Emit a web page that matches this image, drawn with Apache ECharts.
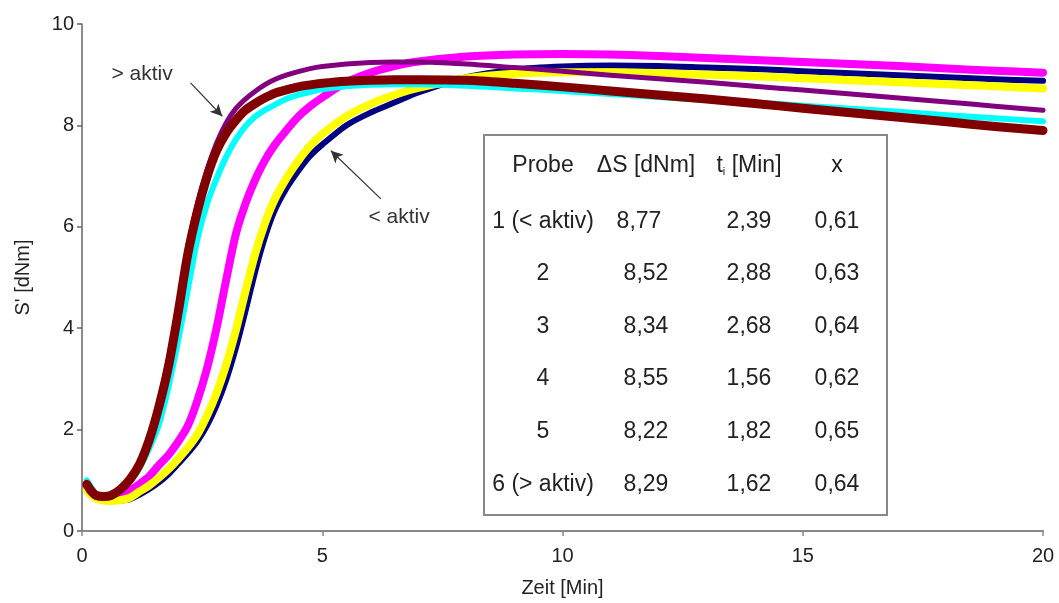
<!DOCTYPE html>
<html>
<head>
<meta charset="utf-8">
<script src="https://cdn.jsdelivr.net/npm/echarts@6/dist/echarts.min.js"></script>
<style>
html,body{margin:0;padding:0;background:#fff;}
#c{width:1059px;height:603px;}
</style>
</head>
<body>
<div id="c"></div>
<script>
// time axis (min)
const T = [0.1,0.2,0.3,0.45,0.6,0.8,1.0,1.2,1.4,1.6,1.8,2.0,2.2,2.4,2.6,2.8,3.0,3.2,3.4,3.6,3.8,4.0,4.25,4.5,4.75,5.0,5.5,6.0,6.5,7.0,8,9,10,11,12,13,14,15,16,17,18,19,20];
// S' [dNm] per sample
const probe1 = [0.85,0.72,0.65,0.6,0.59,0.6,0.63,0.72,0.83,0.96,1.12,1.32,1.53,1.77,2.08,2.48,2.98,3.6,4.33,5.1,5.77,6.3,6.75,7.1,7.4,7.62,8.0,8.25,8.45,8.65,8.95,9.1,9.16,9.18,9.17,9.14,9.11,9.07,9.03,8.99,8.95,8.91,8.88];
const probe2 = [0.92,0.8,0.7,0.66,0.66,0.72,0.8,0.93,1.08,1.3,1.5,1.76,2.07,2.57,3.2,4.0,4.95,5.85,6.45,6.92,7.3,7.6,7.9,8.17,8.38,8.55,8.85,9.04,9.17,9.26,9.36,9.4,9.41,9.4,9.37,9.33,9.29,9.25,9.21,9.17,9.12,9.08,9.04];
const probe3 = [0.8,0.7,0.64,0.6,0.59,0.61,0.66,0.78,0.9,1.05,1.22,1.42,1.64,1.9,2.27,2.72,3.28,3.95,4.72,5.45,6.05,6.52,6.95,7.3,7.6,7.83,8.18,8.42,8.6,8.74,8.93,9.02,9.05,9.05,9.03,9.0,8.97,8.93,8.89,8.85,8.81,8.77,8.73];
const probe4 = [1.0,0.85,0.72,0.7,0.72,0.8,0.98,1.25,1.63,2.1,2.85,3.75,4.75,5.75,6.45,6.95,7.38,7.72,7.98,8.17,8.3,8.4,8.52,8.6,8.66,8.71,8.77,8.8,8.81,8.81,8.78,8.73,8.68,8.62,8.56,8.5,8.45,8.39,8.33,8.27,8.2,8.14,8.08];
const probe5 = [0.9,0.77,0.7,0.67,0.7,0.84,1.06,1.38,1.88,2.55,3.4,4.45,5.6,6.45,7.12,7.65,8.05,8.33,8.52,8.67,8.8,8.9,8.99,9.06,9.12,9.16,9.21,9.24,9.25,9.25,9.21,9.14,9.07,8.99,8.92,8.85,8.77,8.7,8.62,8.54,8.46,8.38,8.3];
const probe6 = [0.92,0.78,0.7,0.68,0.7,0.82,1.02,1.32,1.8,2.45,3.25,4.3,5.45,6.3,6.98,7.5,7.85,8.1,8.3,8.43,8.54,8.63,8.7,8.76,8.8,8.83,8.87,8.89,8.9,8.9,8.89,8.83,8.76,8.68,8.6,8.52,8.43,8.34,8.25,8.16,8.07,7.98,7.9];

const seriesNames = ['1','2','3','4','5','6'];
const seriesValues = [probe1, probe2, probe3, probe4, probe5, probe6];
const seriesColors = ['#000080','#FF00FF','#FFFF00','#00FFFF','#800080','#800000'];
const seriesWidths = [6, 8, 8, 6, 5, 9];

const xTicks = [0,5,10,15,20];
const yTicks = [0,2,4,6,8,10];

// table
const tableHeader = ['Probe', 'ΔS [dNm]', 't_i [Min]', 'x'];
const tableProbe = ['1 (< aktiv)', '2', '3', '4', '5', '6 (> aktiv)'];
const tableDS = ['8,77','8,52','8,34','8,55','8,22','8,29'];
const tableTi = ['2,39','2,88','2,68','1,56','1,82','1,62'];
const tableX = ['0,61','0,63','0,64','0,62','0,65','0,64'];

// annotations (data coords)
const annLow = {text:'< aktiv', from:[6.22,6.55], to:[5.18,7.5], label:[6.6,6.18]};
const annHigh = {text:'> aktiv', from:[2.26,8.84], to:[2.92,8.18], label:[1.25,9.0]};

const FONT = '"Liberation Sans", Arial, sans-serif';
const chart = echarts.init(document.getElementById('c'));

const series = seriesValues.map((vals, i) => ({
  name: seriesNames[i],
  type: 'line',
  smooth: 0.3,
  showSymbol: false,
  symbol: 'none',
  data: vals.map((v, j) => [T[j], v]),
  lineStyle: {color: seriesColors[i], width: seriesWidths[i], cap: 'round', join: 'round'},
  itemStyle: {color: seriesColors[i]},
  z: 2 + i
}));

series.push({
  type: 'line', data: [], silent: true, z: 20,
  markLine: {
    silent: true,
    symbol: ['none', 'arrow'],
    symbolSize: [9, 12],
    label: {show: false},
    lineStyle: {color: '#333', width: 1.2, type: 'solid'},
    data: [
      [{coord: annLow.from}, {coord: annLow.to}],
      [{coord: annHigh.from}, {coord: annHigh.to}]
    ]
  }
});

chart.setOption({
  animation: false,
  backgroundColor: '#fff',
  grid: {left: 82, right: 16, top: 24, bottom: 69},
  xAxis: {
    type: 'value', min: 0, max: 20, interval: 5,
    name: 'Zeit [Min]', nameLocation: 'middle', nameGap: 47,
    nameTextStyle: {fontFamily: FONT, fontSize: 20, color: '#222'},
    axisLine: {lineStyle: {color: '#888', width: 2}},
    axisTick: {show: true, length: 5, lineStyle: {color: '#888', width: 1.5}},
    axisLabel: {fontFamily: FONT, fontSize: 20, color: '#222', margin: 15,
      formatter: v => xTicks.includes(v) ? String(v) : ''},
    splitLine: {show: false}
  },
  yAxis: {
    type: 'value', min: 0, max: 10, interval: 2,
    name: "S' [dNm]", nameLocation: 'middle', nameGap: 49,
    nameTextStyle: {fontFamily: FONT, fontSize: 20, color: '#222'},
    axisLine: {show: true, lineStyle: {color: '#666', width: 1.5}},
    axisTick: {show: true, length: 5, lineStyle: {color: '#666', width: 1.5}},
    axisLabel: {fontFamily: FONT, fontSize: 20, color: '#222', margin: 8,
      formatter: v => yTicks.includes(v) ? String(v) : ''},
    splitLine: {show: false}
  },
  series: series
});

// annotation texts and table placed after layout
const pLow = chart.convertToPixel({gridIndex: 0}, annLow.label);
const pHigh = chart.convertToPixel({gridIndex: 0}, annHigh.label);

const colX = [543, 646, 749, 837];
const rowY = [222, 274, 327, 379, 432, 485];
const tStyle = {fontFamily: FONT, fontSize: 23, fill: '#222'};
const graphics = [
  {type: 'text', x: pLow[0], y: pLow[1], style: {text: annLow.text, fontFamily: FONT, fontSize: 21, fill: '#333', textAlign: 'center', textVerticalAlign: 'middle'}, z: 50},
  {type: 'text', x: pHigh[0], y: pHigh[1], style: {text: annHigh.text, fontFamily: FONT, fontSize: 21, fill: '#333', textAlign: 'center', textVerticalAlign: 'middle'}, z: 50},
  {type: 'rect', shape: {x: 484, y: 135, width: 403, height: 380}, style: {fill: '#fff', stroke: '#888', lineWidth: 2}, z: 40}
];

// header
tableHeader.forEach((h, i) => {
  if (h === 't_i [Min]') {
    graphics.push({type: 'text', x: colX[i], y: 166, z: 50,
      style: {rich: {a: {fontFamily: FONT, fontSize: 23, fill: '#222'}, s: {fontFamily: FONT, fontSize: 11, fill: '#222', verticalAlign: 'bottom'}},
        text: '{a|t}{s|i}{a| [Min]}', fontFamily: FONT, fontSize: 23, fill: '#222', textAlign: 'center', textVerticalAlign: 'middle'}});
  } else {
    graphics.push({type: 'text', x: colX[i], y: 166, z: 50,
      style: Object.assign({text: h, textAlign: 'center', textVerticalAlign: 'middle'}, tStyle)});
  }
});
const cols = [tableProbe, tableDS, tableTi, tableX];
cols.forEach((col, ci) => {
  col.forEach((txt, ri) => {
    let x = colX[ci];
    if (ci === 1 && ri === 0) x -= 7;
    graphics.push({type: 'text', x: x, y: rowY[ri], z: 50,
      style: Object.assign({text: txt, textAlign: 'center', textVerticalAlign: 'middle'}, tStyle)});
  });
});
chart.setOption({graphic: graphics});
</script>
</body>
</html>
